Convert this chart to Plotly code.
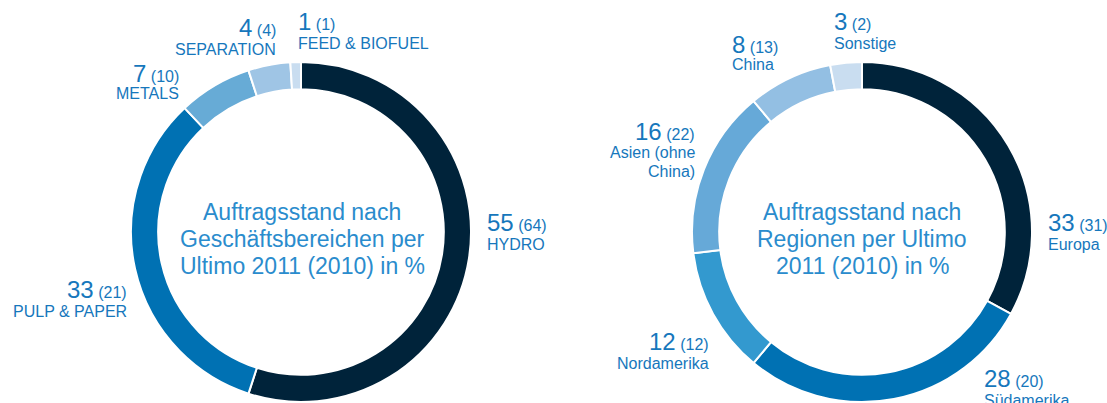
import plotly.graph_objects as go

W, H = 1107, 403

# Left donut: business areas
seg_labels = ["HYDRO", "PULP & PAPER", "METALS", "SEPARATION", "FEED & BIOFUEL"]
seg_2011 = [55, 33, 7, 4, 1]
seg_2010 = [64, 21, 10, 4, 1]
seg_colors = ["#00233A", "#0071B3", "#67ABD6", "#9FC5E5", "#C9DDF0"]

# Right donut: regions
reg_labels = ["Europa", "Südamerika", "Nordamerika", "Asien (ohne<br>China)", "China", "Sonstige"]
reg_2011 = [33, 28, 12, 16, 8, 3]
reg_2010 = [31, 20, 12, 22, 13, 2]
reg_colors = ["#00233A", "#0071B3", "#3399CF", "#66A9D8", "#93BFE3", "#C9DDF0"]

seg_title = ["Auftragsstand nach", "Geschäftsbereichen per", "Ultimo 2011 (2010) in %"]
reg_title = ["Auftragsstand nach", "Regionen per Ultimo", "2011 (2010) in %"]

TXT = "#1677BC"
CTR = "#2A8CCD"
FONT = "Liberation Sans, Arial, sans-serif"


def px_dom(x0, x1, y0, y1):
    return dict(x=[x0 / W, x1 / W], y=[1 - y1 / H, 1 - y0 / H])


fig = go.Figure()
fig.add_trace(go.Pie(
    values=seg_2011, labels=seg_labels, sort=False, direction="clockwise", rotation=0,
    hole=0.84, marker=dict(colors=seg_colors, line=dict(color="white", width=2)),
    textinfo="none", showlegend=False, domain=px_dom(131, 471, 62, 402)))
fig.add_trace(go.Pie(
    values=reg_2011, labels=reg_labels, sort=False, direction="clockwise", rotation=0,
    hole=0.84, marker=dict(colors=reg_colors, line=dict(color="white", width=2)),
    textinfo="none", showlegend=False, domain=px_dom(692, 1032, 62, 402)))

annotations = []


def text_at(px, py, txt, anchor, size, color=TXT):
    annotations.append(dict(
        x=px / W, y=1 - py / H, xref="paper", yref="paper", showarrow=False,
        xanchor=anchor, yanchor="middle", align=anchor, text=txt,
        font=dict(family=FONT, size=size, color=color)))


def lab(px, py_num, py_lab, idx, vals_now, vals_prev, names, anchor, step=19):
    text_at(px, py_num,
            f"<span style='font-size:24px'>{vals_now[idx]}</span> ({vals_prev[idx]})",
            anchor, 16)
    for k, line in enumerate(names[idx].split("<br>")):
        text_at(px, py_lab + k * step, line, anchor, 16)


# left labels
lab(485, 222, 244, 0, seg_2011, seg_2010, seg_labels, "left")
lab(129, 289, 311, 1, seg_2011, seg_2010, seg_labels, "right")
lab(181, 73, 93, 2, seg_2011, seg_2010, seg_labels, "right")
lab(278, 28, 49, 3, seg_2011, seg_2010, seg_labels, "right")
lab(296, 21, 43, 4, seg_2011, seg_2010, seg_labels, "left")

# right labels
lab(1046, 222, 244, 0, reg_2011, reg_2010, reg_labels, "left")
lab(982, 378, 400, 1, reg_2011, reg_2010, reg_labels, "left")
lab(711, 341, 363, 2, reg_2011, reg_2010, reg_labels, "right")
lab(697, 131, 152, 3, reg_2011, reg_2010, reg_labels, "right")
lab(730, 44, 65, 4, reg_2011, reg_2010, reg_labels, "left")
lab(832, 21, 43, 5, reg_2011, reg_2010, reg_labels, "left")

for cx, lines in [(302, seg_title), (862, reg_title)]:
    for k, line in enumerate(lines):
        text_at(cx, 212 + 27 * k, line, "center", 23, CTR)

fig.update_layout(
    width=W, height=H, margin=dict(l=0, r=0, t=0, b=0),
    paper_bgcolor="white", plot_bgcolor="white",
    annotations=annotations, font=dict(family=FONT))

fig.write_html("out.html", config={"displayModeBar": False},
               post_script="document.body.style.margin='0px';")
